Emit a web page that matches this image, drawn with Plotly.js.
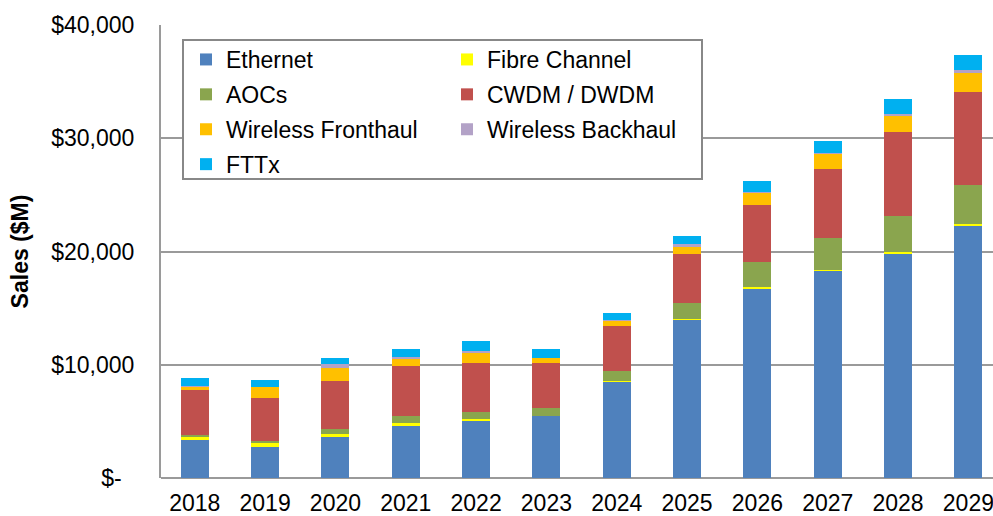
<!DOCTYPE html>
<html>
<head>
<meta charset="utf-8">
<script src="https://cdn.plot.ly/plotly-3.0.1.min.js"></script>
<style>html,body{margin:0;padding:0;background:#fff;}#chart{width:993px;height:516px;}</style>
</head>
<body>
<div id="chart"></div>
<script>
const years = ['2018','2019','2020','2021','2022','2023','2024','2025','2026','2027','2028','2029'];
const ethernet          = [3.36, 2.74, 3.65, 4.59, 5.06, 5.45, 8.52, 13.92, 16.69, 18.28, 19.81, 22.25];
const fibreChannel      = [0.23, 0.35, 0.24, 0.24, 0.15, 0.05, 0.05, 0.12, 0.15, 0.12, 0.12, 0.15];
const aocs              = [0.18, 0.18, 0.41, 0.64, 0.59, 0.71, 0.88, 1.38, 2.23, 2.82, 3.23, 3.45];
const cwdmDwdm          = [3.97, 3.77, 4.27, 4.42, 4.38, 3.91, 4.00, 4.39, 5.01, 6.04, 7.36, 8.26];
const wirelessFronthaul = [0.32, 0.97, 1.14, 0.62, 0.86, 0.45, 0.41, 0.62, 1.09, 1.35, 1.44, 1.63];
const wirelessBackhaul  = [0.09, 0.05, 0.33, 0.15, 0.17, 0.05, 0.09, 0.23, 0.11, 0.09, 0.18, 0.29];
const fttx              = [0.65, 0.60, 0.58, 0.73, 0.91, 0.77, 0.65, 0.71, 0.95, 1.09, 1.36, 1.35];
const yTickVals = [0, 10000, 20000, 30000, 40000];
const yTickText = ['$-\u00a0\u00a0', '$10,000', '$20,000', '$30,000', '$40,000'];

const series = [
  {name: 'Ethernet', v: ethernet, c: '#4F81BD', lg: 'legend'},
  {name: 'Fibre Channel', v: fibreChannel, c: '#FFFF00', lg: 'legend2'},
  {name: 'AOCs', v: aocs, c: '#8AA54E', lg: 'legend'},
  {name: 'CWDM / DWDM', v: cwdmDwdm, c: '#C0504D', lg: 'legend2'},
  {name: 'Wireless Fronthaul', v: wirelessFronthaul, c: '#FFC000', lg: 'legend'},
  {name: 'Wireless Backhaul', v: wirelessBackhaul, c: '#B3A2C7', lg: 'legend2'},
  {name: 'FTTx', v: fttx, c: '#00B0F0', lg: 'legend'}
];

const traces = series.map((s, i) => ({
  type: 'bar', name: s.name, x: years, y: s.v.map(v => v * 1000),
  marker: {color: s.c, line: {width: 0}},
  legend: s.lg, legendgroup: 'g' + i
}));

const font = {family: 'Liberation Sans, Arial, sans-serif', size: 23, color: '#000'};
const legendCommon = {
  orientation: 'v', traceorder: 'grouped', tracegroupgap: 2,
  bgcolor: 'rgba(0,0,0,0)', borderwidth: 0, font: font,
  xanchor: 'left', yanchor: 'top', xref: 'paper', yref: 'paper', itemclick: false
};

const layout = {
  width: 993, height: 516,
  margin: {l: 161, r: 0, t: 25, b: 38},
  paper_bgcolor: '#fff', plot_bgcolor: '#fff',
  font: font,
  barmode: 'stack', bargap: 0.6,
  xaxis: {
    type: 'category', range: [-0.48, 11.35],
    showgrid: false, showline: false, zeroline: false,
    ticks: '', tickfont: font, ticklabelstandoff: 9
  },
  yaxis: {
    range: [0, 40000], tickvals: yTickVals, ticktext: yTickText,
    showgrid: true, gridcolor: '#9A9A9A', gridwidth: 2,
    showline: true, linecolor: '#9A9A9A', linewidth: 2,
    zeroline: true, zerolinecolor: '#9A9A9A', zerolinewidth: 2,
    ticks: '', ticklabelstandoff: 20, tickfont: font,
    title: {text: '<b>Sales ($M)</b>', font: {family: 'Liberation Sans, Arial, sans-serif', size: 23, color: '#000'}, standoff: 16}
  },
  legend: Object.assign({}, legendCommon, {x: (186 - 161) / 832, y: 1 + (25 - 38) / 453}),
  legend2: Object.assign({}, legendCommon, {x: (447 - 161) / 832, y: 1 + (25 - 38) / 453}),
  shapes: [{
    type: 'rect', xref: 'paper', yref: 'paper', layer: 'above',
    x0: (183 - 161) / 832, x1: (702 - 161) / 832,
    y0: (478 - 179) / 453, y1: (478 - 40) / 453,
    fillcolor: '#fff', line: {color: '#888', width: 2}
  }],
  showlegend: true
};

Plotly.newPlot('chart', traces, layout, {displayModeBar: false, staticPlot: true});
</script>
</body>
</html>
